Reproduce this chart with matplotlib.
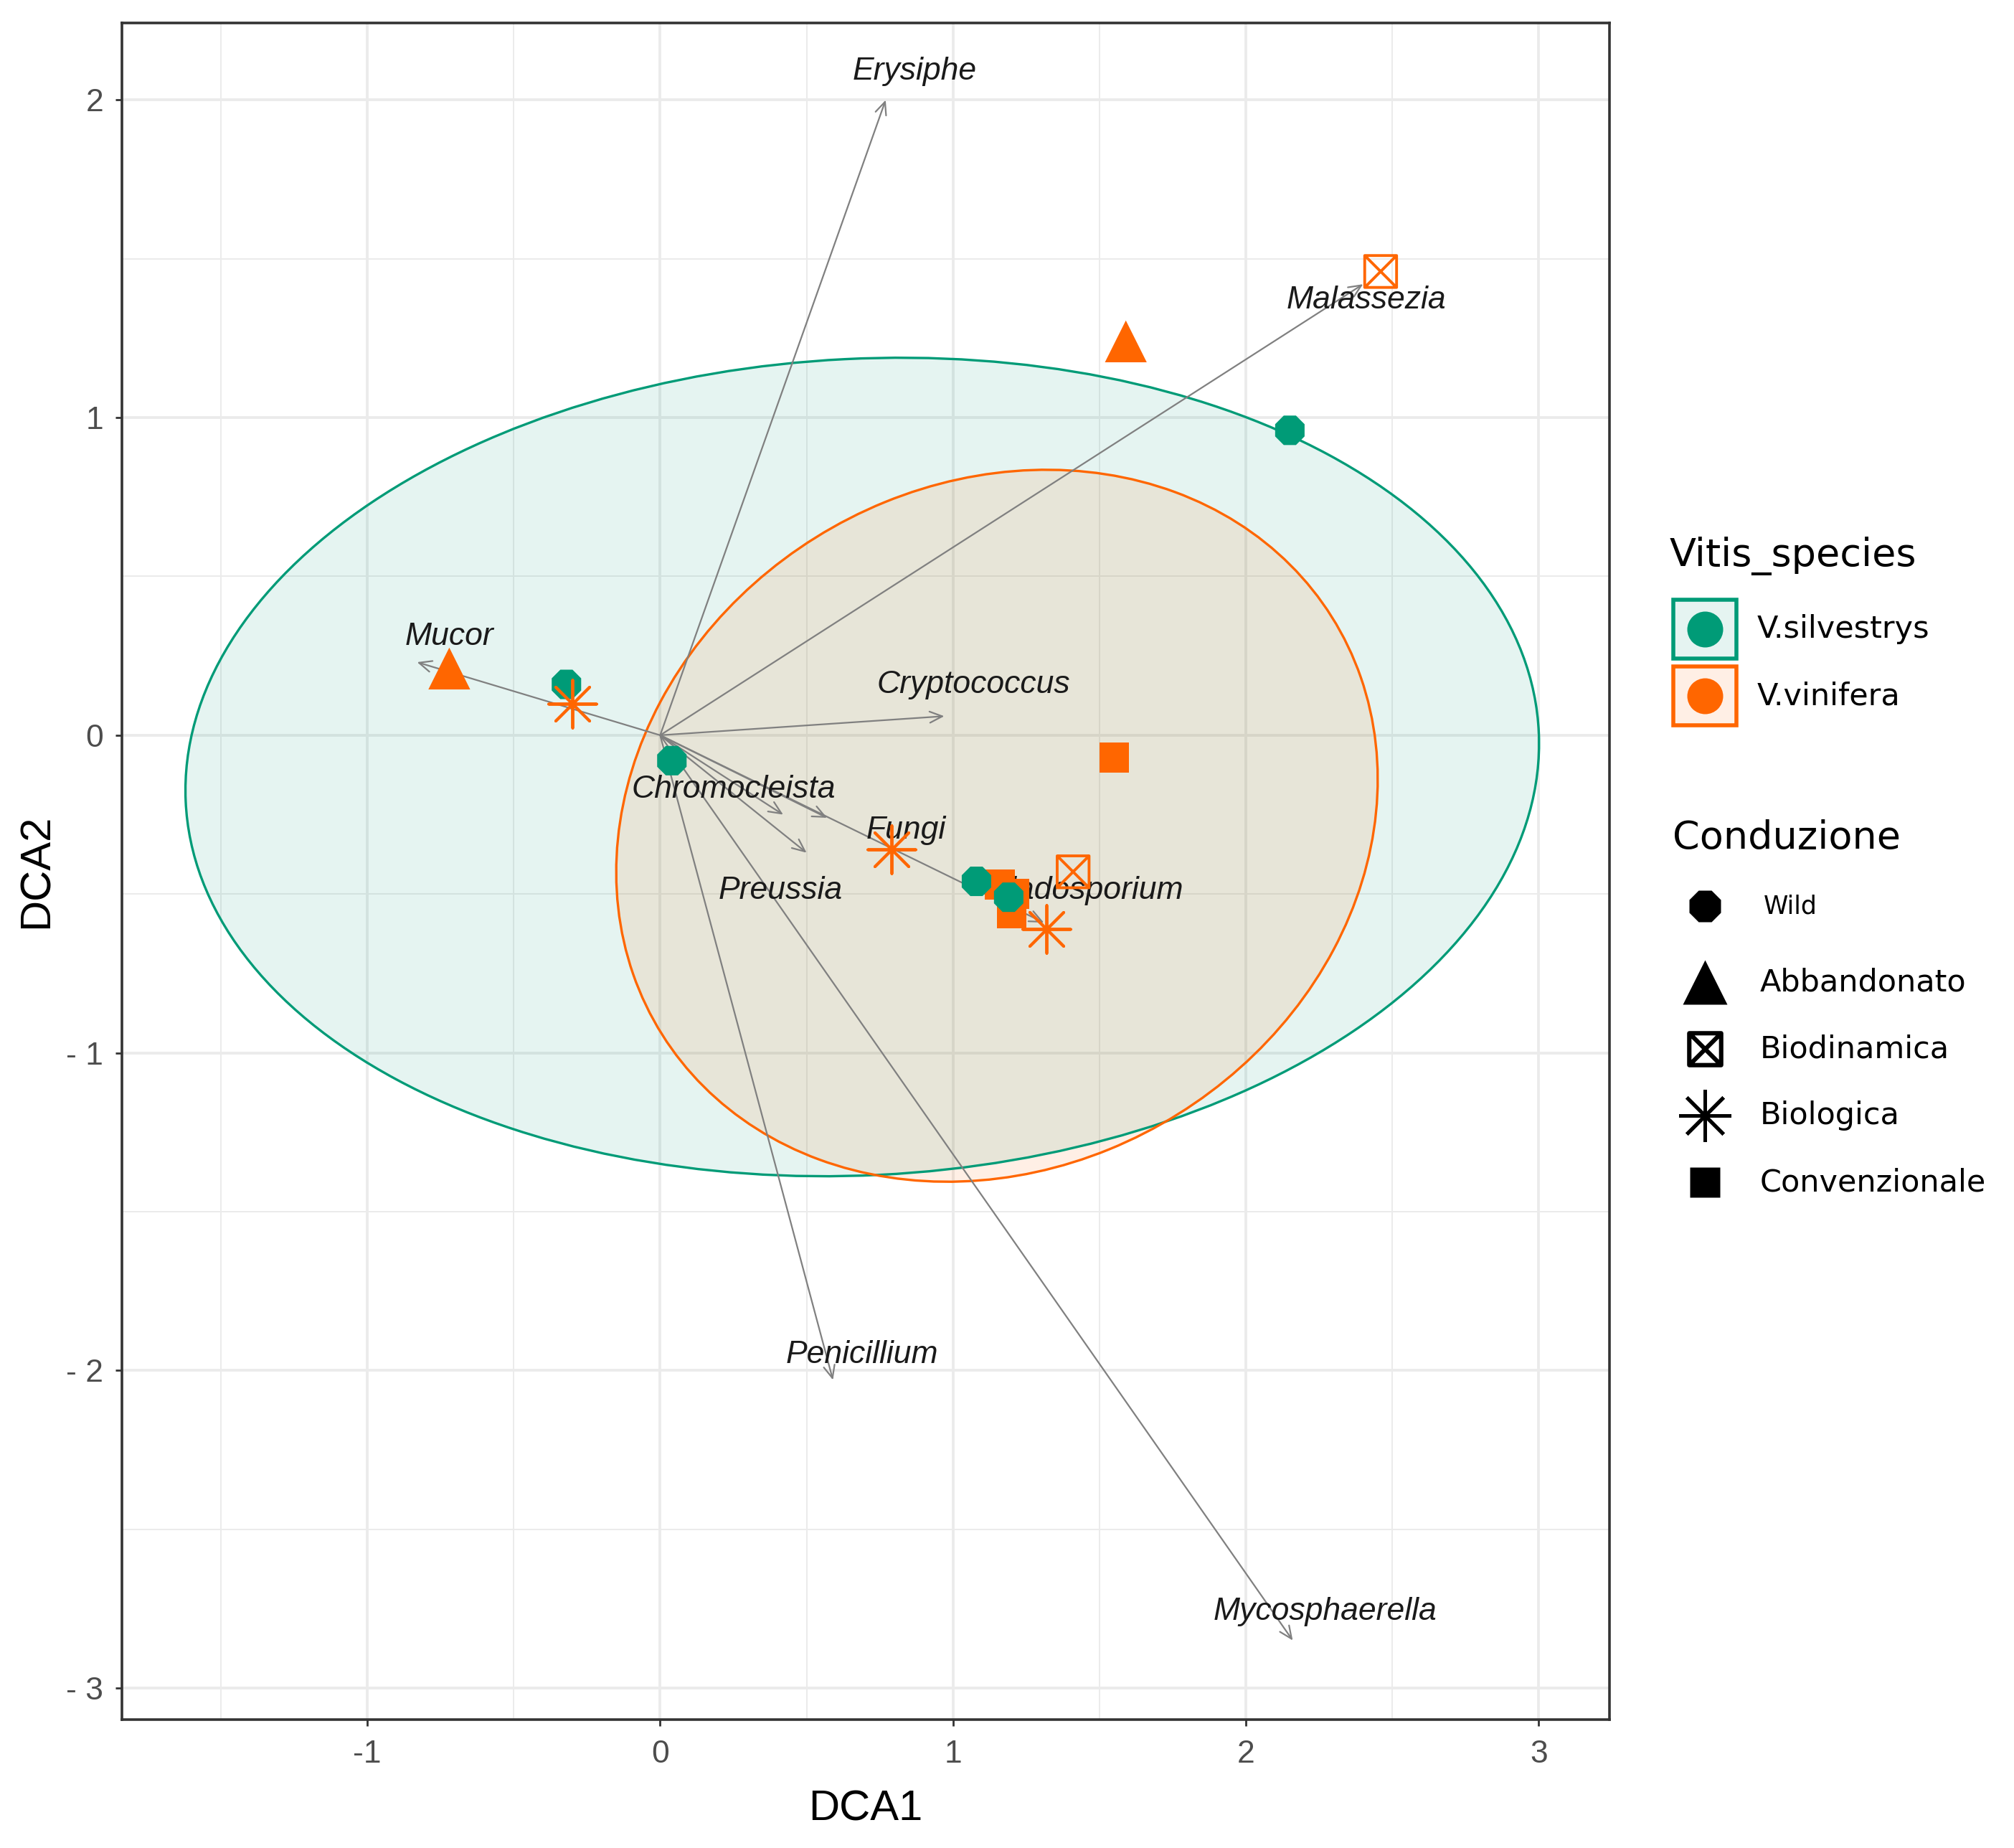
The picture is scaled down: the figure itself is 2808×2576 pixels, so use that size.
import numpy as np
import matplotlib
matplotlib.use("Agg")
import matplotlib.pyplot as plt
from matplotlib.patches import Ellipse, Rectangle
from matplotlib.path import Path

plt.rcParams['font.family'] = ['Liberation Sans', 'DejaVu Sans']

# sample scores
dca1 = [2.15, -0.32, 0.04, 1.08, 1.19,
        -0.72, 1.59, 2.46, 1.41, -0.30, 0.79, 1.32, 1.55, 1.16, 1.21, 1.20]
dca2 = [0.96, 0.16, -0.08, -0.46, -0.51,
        0.21, 1.24, 1.46, -0.43, 0.10, -0.36, -0.61, -0.07, -0.47, -0.50, -0.56]
species = ['V.silvestrys'] * 5 + ['V.vinifera'] * 11
conduzione = ['Wild'] * 5 + ['Abbandonato'] * 2 + ['Biodinamica'] * 2 + \
             ['Biologica'] * 3 + ['Convenzionale'] * 4

species_names = ['V.silvestrys', 'V.vinifera']
conduzione_names = ['Wild', 'Abbandonato', 'Biodinamica', 'Biologica', 'Convenzionale']

# genus vectors
genus = ['Erysiphe', 'Malassezia', 'Mucor', 'Cryptococcus', 'Chromocleista',
         'Fungi', 'Preussia', 'Cladosporium', 'Penicillium', 'Mycosphaerella']
arrow_x = [0.77, 2.40, -0.83, 0.97, 0.42, 0.57, 0.50, 1.31, 0.59, 2.16]
arrow_y = [2.00, 1.42, 0.23, 0.06, -0.25, -0.26, -0.37, -0.59, -2.03, -2.85]
label_x = [0.87, 2.41, -0.72, 1.07, 0.25, 0.84, 0.41, 1.45, 0.69, 2.27]
label_y = [2.09, 1.37, 0.31, 0.16, -0.17, -0.30, -0.49, -0.49, -1.95, -2.76]

# ellipse per species: centre and covariance
ell_center = {'V.silvestrys': (0.69, -0.10), 'V.vinifera': (1.15, -0.285)}
ell_cov = {'V.silvestrys': [[5.34, 0.17], [0.17, 1.66]],
           'V.vinifera': [[1.69, 0.19], [0.19, 1.256]]}

colors = {'V.silvestrys': '#009B77', 'V.vinifera': '#FF6600'}

sqcross = Path([(-1, -1), (1, -1), (1, 1), (-1, 1), (-1, -1),
                (-1, -1), (1, 1), (-1, 1), (1, -1)],
               [Path.MOVETO, Path.LINETO, Path.LINETO, Path.LINETO, Path.CLOSEPOLY,
                Path.MOVETO, Path.LINETO, Path.MOVETO, Path.LINETO])
# marker, size in plot, size in legend, filled
shape = {'Wild': ('8', 16, 17, True), 'Abbandonato': ('^', 21, 22, True),
         'Biodinamica': (sqcross, 16, 16, False), 'Biologica': ((8, 2, 0), 24, 26, False),
         'Convenzionale': ('s', 15, 15, True)}

fig = plt.figure(figsize=(14.04, 12.88), dpi=200)
ax = fig.add_axes([0.0605, 0.0695, 0.7386, 0.918])
ax.set_xlim(-1.838, 3.241)
ax.set_ylim(-3.099, 2.242)

# grid like theme_bw
ax.set_xticks([-1, 0, 1, 2, 3])
ax.set_yticks([-3, -2, -1, 0, 1, 2])
ax.set_xticks(np.arange(-1.5, 3.01, 1.0), minor=True)
ax.set_yticks(np.arange(-2.5, 2.01, 1.0), minor=True)
ax.grid(which='major', color='#EBEBEB', lw=1.4, zorder=0)
ax.grid(which='minor', color='#EBEBEB', lw=0.7, zorder=0)
ax.set_axisbelow(True)
ax.tick_params(which='minor', length=0)
ax.tick_params(which='major', length=3.2, width=1.0, color='#333333',
               labelsize=16, labelcolor='#4D4D4D')
ax.tick_params(axis='x', pad=7)
ax.tick_params(axis='y', pad=6)
ax.set_xticklabels(['-1', '0', '1', '2', '3'])
ax.set_yticklabels(['- 3', '- 2', '- 1', '0', '1', '2'])
for s in ax.spines.values():
    s.set_color('#333333')
    s.set_linewidth(1.3)

# ellipses
for sp in species_names:
    cov = np.array(ell_cov[sp])
    vals, vecs = np.linalg.eigh(cov)
    ang = np.degrees(np.arctan2(vecs[1, 1], vecs[0, 1]))
    w, h = 2 * np.sqrt(vals[1]), 2 * np.sqrt(vals[0])
    ax.add_patch(Ellipse(ell_center[sp], w, h, angle=ang, facecolor=colors[sp],
                         alpha=0.1, edgecolor='none', zorder=1))
    ax.add_patch(Ellipse(ell_center[sp], w, h, angle=ang, facecolor='none',
                         edgecolor=colors[sp], lw=1.2, zorder=2))

# genus arrows and labels
for g, x, y, lx, ly in zip(genus, arrow_x, arrow_y, label_x, label_y):
    ax.annotate('', xy=(x, y), xytext=(0, 0),
                arrowprops=dict(arrowstyle='->,head_length=0.45,head_width=0.2',
                                color='#808080', lw=0.8, shrinkA=0, shrinkB=0,
                                mutation_scale=14),
                zorder=3)
    ax.text(lx, ly, g, style='italic', fontsize=16, color='#1A1A1A',
            ha='center', va='center', zorder=4)

# samples
dca1 = np.array(dca1)
dca2 = np.array(dca2)
species = np.array(species)
conduzione = np.array(conduzione)
for cond in ['Convenzionale', 'Wild', 'Abbandonato', 'Biodinamica', 'Biologica']:
    m, ms, _, filled = shape[cond]
    for sp in species_names:
        sel = (conduzione == cond) & (species == sp)
        if not sel.any():
            continue
        if filled:
            ax.scatter(dca1[sel], dca2[sel], marker=m, s=ms ** 2, color=colors[sp],
                       edgecolors='none', zorder=5)
        elif cond == 'Biologica':
            ax.scatter(dca1[sel], dca2[sel], marker=m, s=ms ** 2, c=colors[sp],
                       linewidths=1.4, zorder=5)
        else:
            ax.scatter(dca1[sel], dca2[sel], marker=m, s=ms ** 2, facecolors='none',
                       edgecolors=colors[sp], linewidths=1.4, zorder=5)

ax.set_xlabel('DCA1', fontsize=21.5, labelpad=10)
ax.set_ylabel('DCA2', fontsize=21.5, labelpad=5)

# legends drawn on an overlay in figure pixels
lg = fig.add_axes([0, 0, 1, 1], facecolor='none')
lg.set_xlim(0, 2808)
lg.set_ylim(2576, 0)
lg.axis('off')
lfont = ['DejaVu Sans']

lg.text(2328, 775, 'Vitis_species', fontsize=19.5, family=lfont, va='center', ha='left')
for i, sp in enumerate(species_names):
    yc = 877 + i * 93
    lg.add_patch(Rectangle((2333, yc - 41), 88, 82, facecolor=colors[sp], alpha=0.1,
                           edgecolor='none'))
    lg.add_patch(Rectangle((2333, yc - 41), 88, 82, facecolor='none',
                           edgecolor=colors[sp], lw=2))
    lg.plot([2377], [yc], marker='o', ms=17, color=colors[sp], ls='')
    lg.text(2450, yc, sp, fontsize=15.5, family=lfont, va='center', ha='left')

lg.text(2332, 1168, 'Conduzione', fontsize=19.5, family=lfont, va='center', ha='left')
for i, cond in enumerate(conduzione_names):
    yc = 1263 + i * 96 if i == 0 else 1369 + (i - 1) * 93
    m, _, lms, filled = shape[cond]
    if filled:
        lg.plot([2377], [yc], marker=m, ms=lms, color='black', ls='',
                markeredgecolor='none')
    elif cond == 'Biologica':
        lg.plot([2377], [yc], marker=m, ms=lms, color='black', ls='', markeredgewidth=1.8)
    else:
        lg.plot([2377], [yc], marker=m, ms=lms, color='black', ls='',
                markerfacecolor='none', markeredgewidth=2.2)
    if cond == 'Wild':
        lg.text(2459, yc, cond, fontsize=12.5, family=lfont, va='center', ha='left')
    else:
        lg.text(2454, yc, cond, fontsize=15.5, family=lfont, va='center', ha='left')

fig.savefig('out.png', dpi=200, facecolor='white')
